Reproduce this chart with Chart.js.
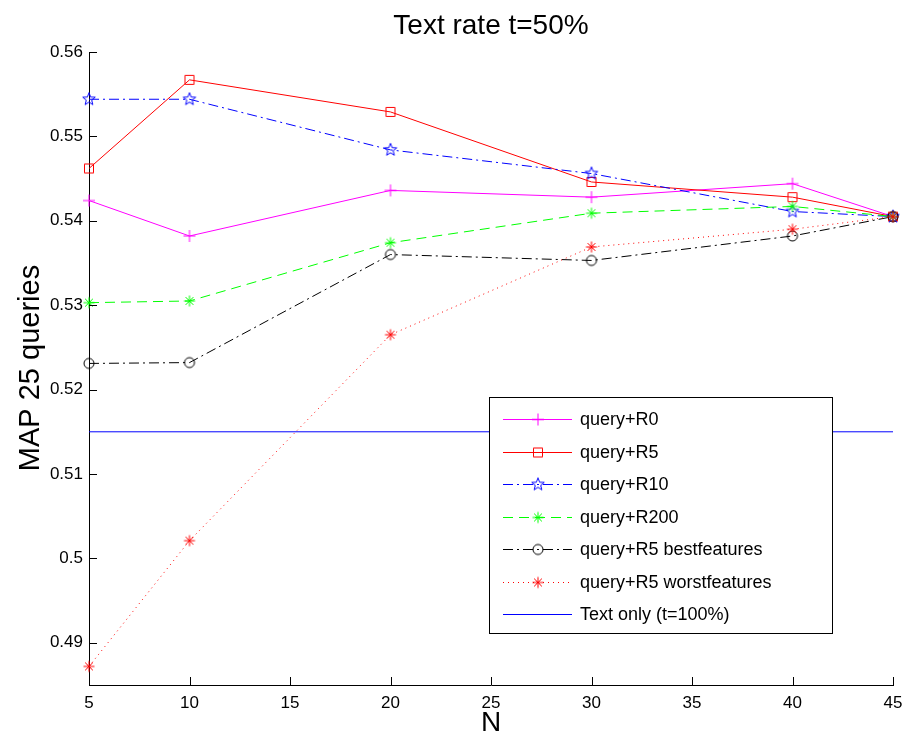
<!DOCTYPE html>
<html>
<head>
<meta charset="utf-8">
<script src="https://cdn.jsdelivr.net/npm/chart.js@4.4.1/dist/chart.umd.min.js"></script>
<style>
  html, body { margin: 0; padding: 0; background: #fff; }
</style>
</head>
<body>
<canvas id="chart" width="905" height="738"></canvas>
<script>
// values
const nValues = [5, 10, 20, 30, 40, 45];
const queryR0 = [0.5424, 0.5382, 0.5436, 0.5428, 0.5444, 0.5405];
const queryR5 = [0.5462, 0.5567, 0.5529, 0.5446, 0.5428, 0.5405];
const queryR10 = [0.5544, 0.5544, 0.5484, 0.5456, 0.5411, 0.5405];
const queryR200 = [0.5303, 0.5305, 0.5374, 0.5409, 0.5417, 0.5405];
const bestFeatures = [0.5231, 0.5232, 0.5360, 0.5353, 0.5382, 0.5405];
const worstFeatures = [0.4872, 0.5021, 0.5265, 0.5369, 0.5390, 0.5405];
const textOnlyN = [5, 45];
const textOnly = [0.515, 0.515];

const xTicks = [5, 10, 15, 20, 25, 30, 35, 40, 45];
const yTicks = [0.49, 0.50, 0.51, 0.52, 0.53, 0.54, 0.55, 0.56];

const FONT = '"Liberation Sans", Arial, Helvetica, sans-serif';

// matlab-like marker glyphs, drawn once into small canvases
function marker(type, color) {
    const s = 16, c = 8;
    const cv = document.createElement('canvas');
    cv.width = s; cv.height = s;
    const g = cv.getContext('2d');
    g.strokeStyle = color;
    g.lineWidth = 1;
    g.beginPath();
    if(type === 'plus') {
        g.moveTo(c - 6, c); g.lineTo(c + 6, c);
        g.moveTo(c, c - 6); g.lineTo(c, c + 6);
    } else if(type === 'square') {
        g.rect(c - 4.5, c - 4.5, 9, 9);
    } else if(type === 'circle') {
        g.arc(c, c, 5, 0, Math.PI * 2);
    } else if(type === 'asterisk') {
        for(let k = 0; k < 4; k++) {
            const a = k * Math.PI / 4;
            g.moveTo(c - 5.5 * Math.cos(a), c - 5.5 * Math.sin(a));
            g.lineTo(c + 5.5 * Math.cos(a), c + 5.5 * Math.sin(a));
        }
    } else if(type === 'pentagram') {
        for(let k = 0; k < 10; k++) {
            const r = k % 2 ? 2.8 : 6.6;
            const a = -Math.PI / 2 + k * Math.PI / 5;
            const px = c + r * Math.cos(a), py = c + r * Math.sin(a);
            if(k) g.lineTo(px, py); else g.moveTo(px, py);
        }
        g.closePath();
    }
    g.stroke();
    return cv;
}

const series = [
    { label: 'query+R0', data: queryR0, color: '#ff00ff', dash: [], mark: 'plus' },
    { label: 'query+R5', data: queryR5, color: '#ff0000', dash: [], mark: 'square' },
    { label: 'query+R10', data: queryR10, color: '#0000ff', dash: [10, 4, 2, 4], mark: 'pentagram' },
    { label: 'query+R200', data: queryR200, color: '#00ff00', dash: [10, 6], mark: 'asterisk' },
    { label: 'query+R5 bestfeatures', data: bestFeatures, color: '#000000', dash: [10, 4, 2, 4], mark: 'circle' },
    { label: 'query+R5 worstfeatures', data: worstFeatures, color: '#ff0000', dash: [1, 4], mark: 'asterisk' }
];
series.forEach(s => s.img = marker(s.mark, s.color));

const datasets = series.map(s => ({
    label: s.label,
    data: nValues.map((n, i) => ({ x: n, y: s.data[i] })),
    borderColor: s.color,
    borderWidth: 1,
    borderDash: s.dash,
    pointStyle: s.img,
    pointRadius: 6,
    tension: 0,
    fill: false,
    clip: false
}));
datasets.push({
    label: 'Text only (t=100%)',
    data: textOnlyN.map((n, i) => ({ x: n, y: textOnly[i] })),
    borderColor: '#0000ff',
    borderWidth: 1,
    pointRadius: 0,
    fill: false,
    clip: false
});
// matlab draws later series on top
datasets.forEach((d, i) => d.order = datasets.length - i);

const decorPlugin = {
    id: 'decor',
    afterDraw(chart) {
        const { ctx, chartArea: a, scales: { x, y } } = chart;
        ctx.save();

        // inward ticks
        ctx.strokeStyle = '#000';
        ctx.lineWidth = 1;
        ctx.beginPath();
        yTicks.forEach(v => {
            const py = Math.round(y.getPixelForValue(v)) + 0.5;
            ctx.moveTo(a.left, py); ctx.lineTo(a.left + 8, py);
        });
        xTicks.forEach(v => {
            const px = Math.round(x.getPixelForValue(v)) + 0.5;
            ctx.moveTo(px, a.bottom); ctx.lineTo(px, a.bottom - 8);
        });
        ctx.stroke();

        // legend box
        const lx = 489.5, ly = 397.5, lw = 343, lh = 236;
        ctx.fillStyle = '#fff';
        ctx.fillRect(lx, ly, lw, lh);
        ctx.strokeRect(lx, ly, lw, lh);
        const items = series.concat([{ label: 'Text only (t=100%)', color: '#0000ff', dash: [] }]);
        ctx.font = '18px ' + FONT;
        ctx.textBaseline = 'middle';
        items.forEach((it, i) => {
            const ry = Math.round(419 + i * 32.5) + 0.5;
            ctx.strokeStyle = it.color;
            ctx.setLineDash(it.dash);
            ctx.beginPath();
            ctx.moveTo(503, ry); ctx.lineTo(572, ry);
            ctx.stroke();
            ctx.setLineDash([]);
            if(it.img) ctx.drawImage(it.img, 538 - 8, ry - 8);
            ctx.fillStyle = '#000';
            ctx.fillText(it.label, 580, ry + 1);
        });

        // title and axis labels
        ctx.fillStyle = '#000';
        ctx.textAlign = 'center';
        ctx.font = '28px ' + FONT;
        ctx.fillText('Text rate t=50%', 491, 26);
        ctx.fillText('N', 491, 723);
        ctx.translate(31, 368);
        ctx.rotate(-Math.PI / 2);
        ctx.font = '29px ' + FONT;
        ctx.fillText('MAP 25 queries', 0, 0);
        ctx.restore();
    }
};

new Chart(document.getElementById('chart'), {
    type: 'line',
    data: { datasets: datasets },
    options: {
        responsive: false,
        animation: false,
        layout: { padding: { top: 52, right: 12, left: 0, bottom: 0 } },
        plugins: {
            legend: { display: false },
            tooltip: { enabled: false }
        },
        scales: {
            x: {
                type: 'linear',
                min: 5, max: 45,
                grid: { display: false, drawTicks: false },
                border: { display: true, color: '#000', width: 1 },
                afterBuildTicks: s => { s.ticks = xTicks.map(v => ({ value: v })); },
                afterFit: s => { s.height = 53; s.paddingLeft = 0; s.paddingRight = 0; },
                ticks: { color: '#000', padding: 8, maxRotation: 0, font: { family: FONT, size: 17 } }
            },
            y: {
                type: 'linear',
                min: 0.485, max: 0.56,
                grid: { display: false, drawTicks: false },
                border: { display: true, color: '#000', width: 1 },
                afterBuildTicks: s => { s.ticks = yTicks.map(v => ({ value: v })); },
                afterFit: s => { s.width = 89; s.paddingTop = 0; s.paddingBottom = 0; },
                ticks: {
                    color: '#000', padding: 6,
                    font: { family: FONT, size: 17 },
                    callback: v => String(Number(v.toFixed(2)))
                }
            }
        }
    },
    plugins: [decorPlugin]
});
</script>
</body>
</html>
